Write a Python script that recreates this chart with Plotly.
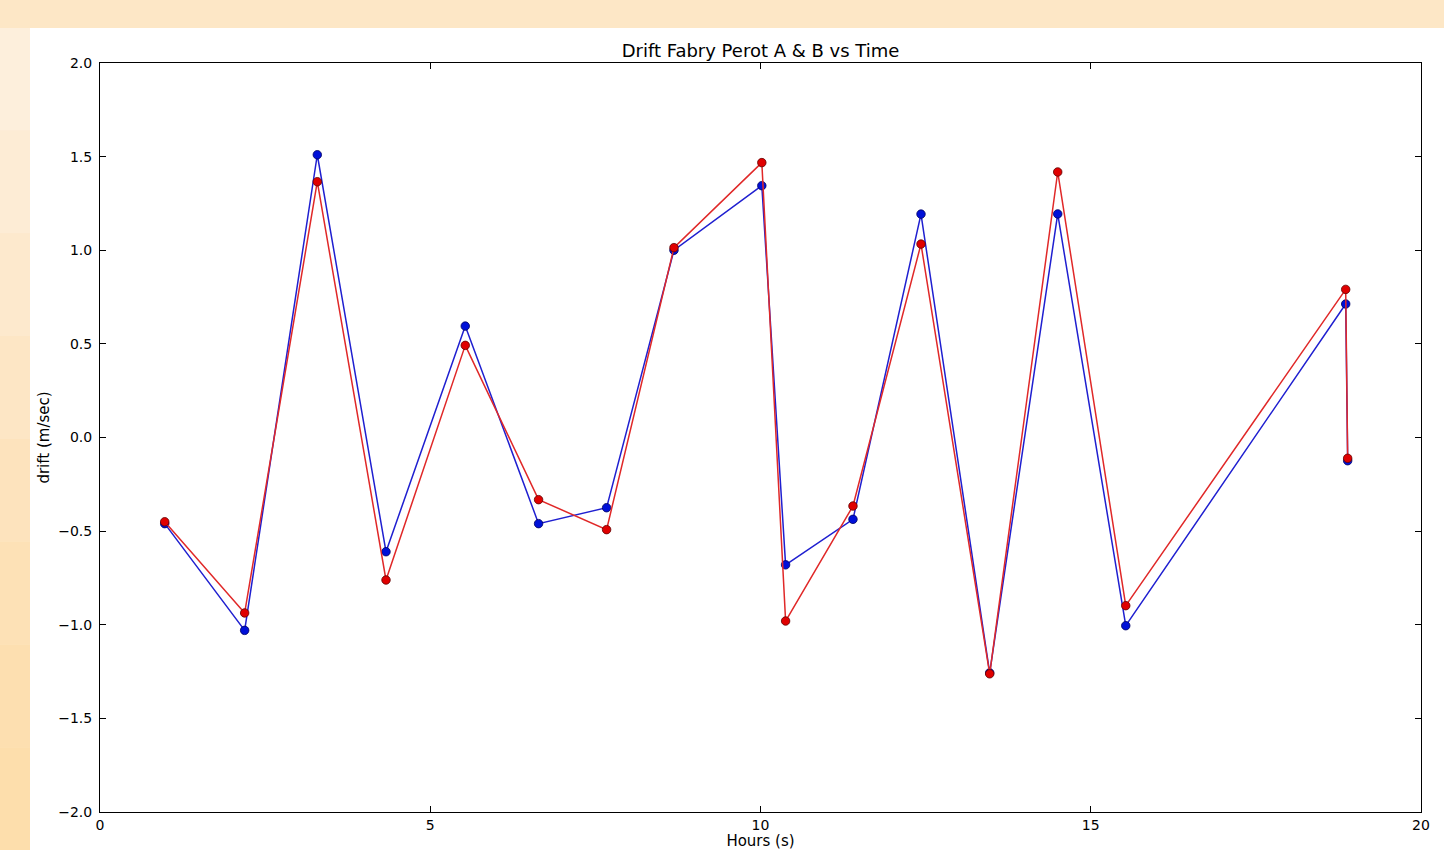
import plotly.graph_objects as go

hours = [0.98, 2.19, 3.29, 4.33, 5.53, 6.64, 7.67, 8.69, 10.02, 10.38, 11.40, 12.43, 13.47, 14.50, 15.53, 18.86, 18.89]
drift_a = [-0.46, -1.03, 1.51, -0.61, 0.595, -0.46, -0.375, 1.00, 1.345, -0.68, -0.437, 1.193, -1.257, 1.194, -1.005, 0.713, -0.124]
drift_b = [-0.45, -0.937, 1.366, -0.761, 0.492, -0.332, -0.492, 1.014, 1.468, -0.98, -0.366, 1.033, -1.262, 1.418, -0.898, 0.791, -0.111]

x_ticks = [0, 5, 10, 15, 20]
y_ticks = [-2.0, -1.5, -1.0, -0.5, 0.0, 0.5, 1.0, 1.5, 2.0]

font = "DejaVu Sans"
bg = "#fde7c6"
strip_colors = ["#fdefdc", "#fdecd5", "#fde9cd", "#fde6c5", "#fde3bd", "#fde1b6", "#fddfb0", "#fddeac"]

fig = go.Figure()
fig.add_trace(go.Scatter(
    x=hours, y=drift_a, mode="lines+markers", name="A",
    line=dict(color="#1f1fd0", width=1.5),
    marker=dict(color="#0010d8", size=8.5, line=dict(color="#000060", width=0.8)),
))
fig.add_trace(go.Scatter(
    x=hours, y=drift_b, mode="lines+markers", name="B",
    line=dict(color="#e02828", width=1.5),
    marker=dict(color="#e00000", size=8.5, line=dict(color="#600000", width=0.8)),
))

# left background strip, light at top and deeper orange toward the bottom
ph = 749.0
pw = 1321.0
n = len(strip_colors)
for i, c in enumerate(strip_colors):
    top_px = 28 + i * (850 - 28) / n
    bot_px = 28 + (i + 1) * (850 - 28) / n
    fig.add_shape(type="rect", xref="paper", yref="paper",
                  x0=-100 / pw, x1=-70 / pw,
                  y0=(812 - bot_px) / ph, y1=(812 - top_px) / ph,
                  fillcolor=c, line=dict(width=0), layer="below")

# white panel behind the axes (starts 30px from left, 28px from top)
fig.add_shape(type="rect", xref="paper", yref="paper",
              x0=-70 / pw, x1=1.05, y0=-0.2, y1=1 + 35 / ph,
              fillcolor="white", line=dict(width=0), layer="below")

fig.update_layout(
    width=1444, height=850,
    margin=dict(l=100, r=23, t=63, b=38, autoexpand=False),
    paper_bgcolor=bg,
    plot_bgcolor="white",
    showlegend=False,
    font=dict(family=font, size=14, color="black"),
    title=dict(text="Drift Fabry Perot A & B vs Time", xref="paper", x=0.5, xanchor="center",
               y=1 - 51 / 850, yanchor="middle", font=dict(family=font, size=18, color="black")),
)
fig.update_xaxes(
    range=[0, 20], tickvals=x_ticks, ticktext=[str(v) for v in x_ticks],
    ticks="inside", ticklen=6, tickcolor="black", tickwidth=1,
    showline=True, linecolor="black", linewidth=1, mirror="ticks",
    showgrid=False, zeroline=False, automargin=False,
    title=dict(text="Hours (s)", standoff=2, font=dict(family=font, size=15)),
)
fig.update_yaxes(
    range=[-2, 2], tickvals=y_ticks, tickformat=".1f",
    ticks="inside", ticklen=6, tickcolor="black", tickwidth=1,
    showline=True, linecolor="black", linewidth=1, mirror="ticks",
    showgrid=False, zeroline=False, ticklabelstandoff=4, automargin=False,
    title=dict(text="drift (m/sec)", standoff=4, font=dict(family=font, size=15)),
)

fig.write_html(
    "out.html",
    config={"displayModeBar": False},
    post_script="document.body.style.margin='0';document.body.style.background='" + bg + "';",
)
